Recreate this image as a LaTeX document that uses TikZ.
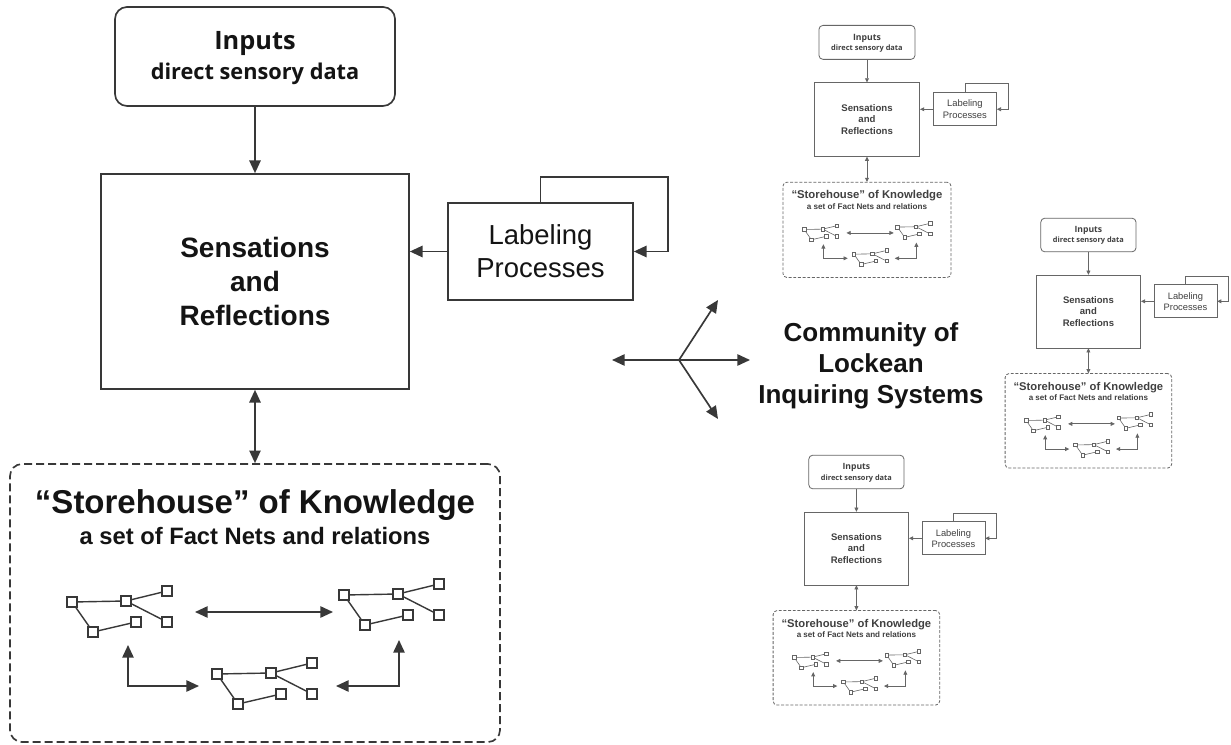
\documentclass[tikz,border=0pt]{standalone}
\usepackage{fontspec}
\newfontfamily\ar{Liberation Sans}
\newfontfamily\os{Open Sans}
\usetikzlibrary{arrows.meta}
\tikzset{
 mainlook/.style={
   lc/.style={draw=black!78, line width=1.25pt},
   nl/.style={draw=black!78, line width=1.05pt},
   tc/.style={text=black!92},
   rc/.style={rounded corners=9pt},
   dsh/.style={dash pattern=on 6pt off 3pt},
   >={Triangle[length=9.5pt,width=8.5pt]},
 },
 copylook/.style={
   lc/.style={draw=black!60, line width=0.6pt},
   nl/.style={draw=black!60, line width=0.45pt},
   tc/.style={text=black!75},
   rc/.style={rounded corners=3pt},
   dsh/.style={dash pattern=on 2.2pt off 1.3pt},
   >={Triangle[length=3.2pt,width=2.9pt]},
 },
 sq/.style={nl, fill=white, minimum size=7.5pt, inner sep=0pt, draw},
}
\newcommand{\factnet}[3]{%
 \begin{scope}[shift={(#2,#3)}]
  \foreach \p/\q [count=\k] in {0/0,54/-1,95/-11,95/20,21/30,64/20}
    \node[sq] (#1s\k) at (\p,\q) {};
  \draw[nl] (#1s1) -- (#1s2) -- (#1s3);
  \draw[nl] (#1s2) -- (#1s4);
  \draw[nl] (#1s1) -- (#1s5) -- (#1s6);
 \end{scope}}
\newcommand{\lockean}[1]{%
 % Inputs
 \node[lc, rc, draw, minimum width=210pt, minimum height=74.25pt, inner sep=0pt] (#1in) at (255,56.5) {};
 \node[tc, font=\os\bfseries\fontsize{19}{22}\selectfont, anchor=base, inner sep=0pt] (#1int) at (255,50) {Inputs};
 \node[tc, font=\os\bfseries\fontsize{16.3}{20}\selectfont, anchor=base, inner sep=0pt] (#1ins) at (255,80) {direct sensory data};
 % Sensations
 \node[lc, draw, minimum width=231pt, minimum height=161.25pt, inner sep=0pt, tc,
       font=\ar\bfseries\fontsize{21}{25.5}\selectfont, align=center] (#1sr) at (255,281.5)
       {Sensations\\and\\Reflections};
 % Labeling
 \node[lc, draw, minimum width=138.75pt, minimum height=72.75pt, inner sep=0pt, tc,
       font=\ar\fontsize{20.6}{24.75}\selectfont, align=center] (#1lp) at (540.5,251.5)
       {Labeling\\Processes};
 \coordinate (#1fr) at (668,177);
 \draw[lc, ->] (#1lp.north) |- (#1fr) |- (#1lp.east);
 \draw[lc, ->] (#1in.south) -- (#1sr.north);
 \draw[lc, ->] (#1lp.west) -- (#1lp.west -| #1sr.east);
 % Storehouse
 \node[lc, rc, dsh, draw, minimum width=367.5pt, minimum height=208.5pt, inner sep=0pt] (#1sh) at (255,603) {};
 \draw[lc, <->] (#1sr.south) -- (#1sh.north);
 \node[tc, font=\ar\bfseries\fontsize{24.75}{28}\selectfont, anchor=base, inner sep=0pt] (#1sht) at (255,513) {“Storehouse” of Knowledge};
 \node[tc, font=\ar\bfseries\fontsize{17.8}{21}\selectfont, anchor=base, inner sep=0pt] (#1shs) at (255,544) {a set of Fact Nets and relations};
 \factnet{#1na}{72}{602}
 \factnet{#1nb}{344}{595}
 \factnet{#1nc}{217}{674}
 \coordinate (#1h1) at (195,612);
 \coordinate (#1h2) at (333,612);
 \draw[lc, <->] (#1h1) -- (#1h2);
 \coordinate (#1l1) at (128,645);
 \coordinate (#1l2) at (199,686);
 \draw[lc, <->] (#1l1) |- (#1l2);
 \coordinate (#1r1) at (399,640);
 \coordinate (#1r2) at (336,686);
 \draw[lc, <->] (#1r1) |- (#1r2);
}
\begin{document}
\begin{tikzpicture}[x=0.75pt,y=-0.75pt]
\fill[white] (0,0) rectangle (1231,745);
\useasboundingbox (0,0) rectangle (1231,745);
\begin{scope}[mainlook]
 \lockean{m}
 \coordinate (hub) at (679,360);
 \coordinate (cl) at (612,360);
 \coordinate (cr) at (750,360);
 \coordinate (cu) at (718,300);
 \coordinate (cd) at (718,419);
 \draw[lc, ->] (hub) -- (cl);
 \draw[lc, ->] (hub) -- (cr);
 \draw[lc, ->] (hub) -- (cu);
 \draw[lc, ->] (hub) -- (cd);
 \node[tc, font=\ar\bfseries\fontsize{19.5}{23.25}\selectfont, align=center] (comm) at (871,366)
   {Community of\\Lockean\\Inquiring Systems};
\end{scope}
\begin{scope}[copylook, shift={(779.5,23)}, scale=0.343, transform shape]
 \lockean{a}
\end{scope}
\begin{scope}[copylook, shift={(1001.7,215.8)}, scale=0.34, transform shape]
 \lockean{b}
\end{scope}
\begin{scope}[copylook, shift={(769.7,452.8)}, scale=0.34, transform shape]
 \lockean{c}
\end{scope}
\end{tikzpicture}
\end{document}
